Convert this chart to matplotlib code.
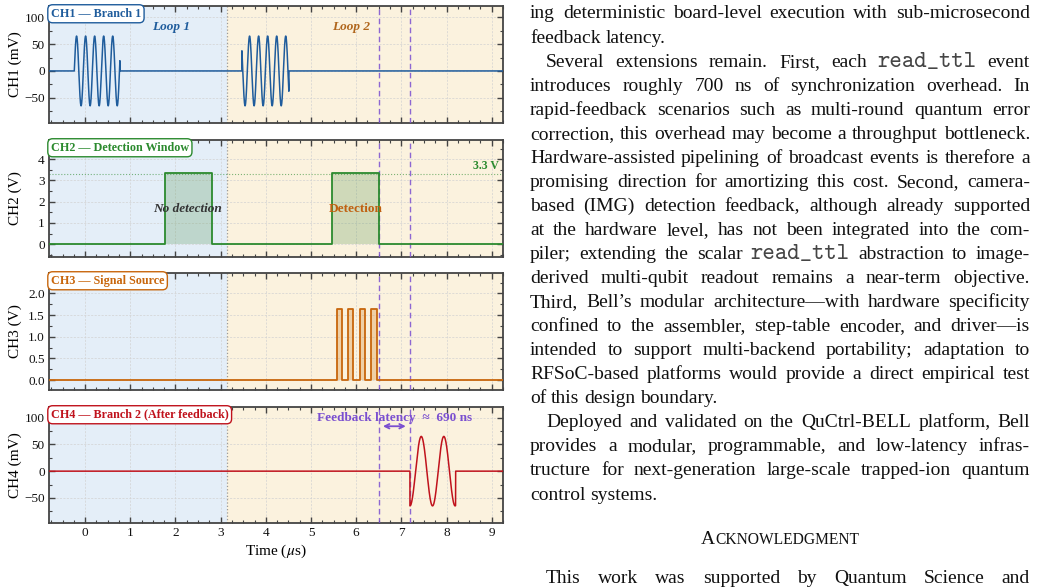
import os
import numpy as np
import matplotlib
matplotlib.use("Agg")
import matplotlib.pyplot as plt
from matplotlib.ticker import MultipleLocator, FormatStrFormatter
from matplotlib.font_manager import FontProperties

# ---------------- data ----------------
time_range_us = (-0.8, 9.25)
loop_boundary_us = 3.14
marker_lines_us = [6.50, 7.19]

ch1_burst_start_us = [-0.24, 3.47]
ch1_burst_stop_us = [0.77, 4.51]
ch1_burst_phase_ref_us = [-0.24, 3.39]
ch1_period_us = 0.20
ch1_amp_mV = 65.0

ch2_pulse_start_us = [1.77, 5.47]
ch2_pulse_stop_us = [2.80, 6.50]
ch2_level_V = 3.35
ch2_ref_V = 3.3

ch3_pulse_start_us = [5.57, 5.82, 6.08, 6.33]
ch3_pulse_stop_us = [5.69, 5.93, 6.20, 6.45]
ch3_level_V = 1.65

ch4_burst_start_us = 7.19
ch4_burst_stop_us = 8.20
ch4_period_us = 0.50
ch4_amp_mV = 65.0

latency_ns = 690

x_ticks = [0, 1, 2, 3, 4, 5, 6, 7, 8, 9]
ch_titles = ["CH1 \u2014 Branch 1", "CH2 \u2014 Detection Window",
             "CH3 \u2014 Signal Source", "CH4 \u2014 Branch 2 (After feedback)"]
ch_ylabels = ["CH1 (mV)", "CH2 (V)", "CH3 (V)", "CH4 (mV)"]
ch_ylims = [(-97, 121), (-0.6, 4.9), (-0.23, 2.47), (-97, 120)]
ch_yticks = [[-50, 0, 50, 100], [0, 1, 2, 3, 4], [0.0, 0.5, 1.0, 1.5, 2.0], [-50, 0, 50, 100]]
ch_yminor = [25, 0.5, 0.25, 25]

# ---------------- style ----------------
plt.rcParams["font.family"] = ["Liberation Serif", "DejaVu Serif"]
plt.rcParams["mathtext.fontset"] = "stix"

C_BLUE = "#1f5c9c"
C_GREEN = "#2b8a2e"
C_ORANGE = "#c8660c"
C_RED = "#c0121c"
C_PURPLE = "#7a4fd0"
BG_LEFT = "#e4eef8"
BG_RIGHT = "#fbf2de"
SPINE = "#444444"
colors = [C_BLUE, C_GREEN, C_ORANGE, C_RED]

W_PX, H_PX = 1039, 588
fig = plt.figure(figsize=(W_PX / 100, H_PX / 100), dpi=100)

ax_left, ax_right = 49, 503
tops = [6, 140, 273, 407]
bots = [123, 257, 390, 523]
axes = []
for i in range(4):
    ax = fig.add_axes([ax_left / W_PX, 1 - bots[i] / H_PX,
                       (ax_right - ax_left) / W_PX, (bots[i] - tops[i]) / H_PX])
    axes.append(ax)

t = np.linspace(time_range_us[0], time_range_us[1], 12001)

def burst(start, stop, ref, period, amp, kind="sin"):
    y = np.zeros_like(t)
    m = (t >= start) & (t <= stop)
    ph = 2 * np.pi * (t[m] - ref) / period
    y[m] = amp * (np.sin(ph) if kind == "sin" else -np.cos(ph))
    return y

def pulses(starts, stops, level):
    xs, ys = [time_range_us[0]], [0.0]
    for s, e in zip(starts, stops):
        xs += [s, s, e, e]
        ys += [0.0, level, level, 0.0]
    xs.append(time_range_us[1]); ys.append(0.0)
    return np.array(xs), np.array(ys)

ch1 = np.zeros_like(t)
for s, e, r in zip(ch1_burst_start_us, ch1_burst_stop_us, ch1_burst_phase_ref_us):
    ch1 += burst(s, e, r, ch1_period_us, ch1_amp_mV)
ch4 = burst(ch4_burst_start_us, ch4_burst_stop_us, ch4_burst_start_us,
            ch4_period_us, ch4_amp_mV, kind="cos")
x2, y2 = pulses(ch2_pulse_start_us, ch2_pulse_stop_us, ch2_level_V)
x3, y3 = pulses(ch3_pulse_start_us, ch3_pulse_stop_us, ch3_level_V)

for i, ax in enumerate(axes):
    ax.set_xlim(*time_range_us)
    ax.set_ylim(*ch_ylims[i])
    ax.axvspan(time_range_us[0], loop_boundary_us, color=BG_LEFT, zorder=0, lw=0)
    ax.axvspan(loop_boundary_us, time_range_us[1], color=BG_RIGHT, zorder=0, lw=0)
    ax.axvline(loop_boundary_us, color="#9a9a9a", ls=":", lw=0.9, zorder=1)
    for xv in marker_lines_us:
        ax.axvline(xv, color=C_PURPLE, ls=(0, (4, 2.5)), lw=1.0, alpha=0.85, zorder=3)
    ax.set_xticks(x_ticks)
    ax.xaxis.set_minor_locator(MultipleLocator(0.25))
    ax.set_yticks(ch_yticks[i])
    ax.yaxis.set_minor_locator(MultipleLocator(ch_yminor[i]))
    ax.grid(True, which="major", color="#d2d2d2", ls=(0, (3, 2)), lw=0.5, zorder=1)
    ax.set_axisbelow(True)
    ax.tick_params(which="both", direction="in", top=True, right=True,
                   colors=SPINE, labelcolor="#111111", labelsize=9.5, pad=3)
    ax.tick_params(which="major", length=4.5, width=1.0)
    ax.tick_params(which="minor", length=2.5, width=0.8)
    for sp in ax.spines.values():
        sp.set_color(SPINE); sp.set_linewidth(1.3)
    if i < 3:
        ax.tick_params(labelbottom=False)
    ax.set_ylabel(ch_ylabels[i], fontsize=11)
    ax.yaxis.set_label_coords(-0.060, 0.5)
    ax.text(0.004, 0.985, ch_titles[i], transform=ax.transAxes, ha="left", va="top",
            fontsize=8.7, fontweight="bold", color=colors[i], zorder=10,
            bbox=dict(boxstyle="round,pad=0.25,rounding_size=0.4", fc="white",
                      ec=colors[i], lw=1.0))

axes[2].yaxis.set_major_formatter(FormatStrFormatter("%.1f"))

# CH1
axes[0].plot(t, ch1, color=C_BLUE, lw=1.1, zorder=4)
axes[0].text(1.9, 82, "Loop 1", color=C_BLUE, fontsize=9.5, fontweight="bold",
             fontstyle="italic", ha="center", va="center")
axes[0].text(5.89, 82, "Loop 2", color="#b0661c", fontsize=9.5, fontweight="bold",
             fontstyle="italic", ha="center", va="center")

# CH2
ax = axes[1]
ax.axhline(ch2_ref_V, color=C_GREEN, ls=":", lw=0.8, alpha=0.6, zorder=2)
ax.fill_between(x2, 0, y2, color="#5e9a5a", alpha=0.28, lw=0, zorder=3)
ax.plot(x2, y2, color=C_GREEN, lw=1.3, zorder=4)
ax.text(2.27, 1.65, "No detection", color="#333333", fontsize=9.5, fontweight="bold",
        fontstyle="italic", ha="center", va="center", zorder=6)
ax.text(5.99, 1.65, "Detection", color="#c06010", fontsize=9.5, fontweight="bold",
        ha="center", va="center", zorder=6)
ax.text(9.15, 3.68, "3.3 V", color=C_GREEN, fontsize=8.5, fontweight="bold",
        ha="right", va="center")

# CH3
ax = axes[2]
ax.fill_between(x3, 0, y3, color="#d9913f", alpha=0.35, lw=0, zorder=3)
ax.plot(x3, y3, color=C_ORANGE, lw=1.3, zorder=4)

# CH4
ax = axes[3]
ax.plot(t, ch4, color=C_RED, lw=1.1, zorder=4)
ax.annotate("", xy=(marker_lines_us[1], 84), xytext=(marker_lines_us[0], 84),
            arrowprops=dict(arrowstyle="<->", color=C_PURPLE, lw=1.3,
                            shrinkA=3, shrinkB=3, mutation_scale=8), zorder=6)
ax.text(6.85, 99, "Feedback latency  \u2248  %d ns" % latency_ns, color=C_PURPLE,
        fontsize=9.5, fontweight="bold", ha="center", va="center", zorder=6)
ax.set_xlabel("Time ($\\mu$s)", fontsize=11)
ax.xaxis.set_label_coords(0.5, -0.17)

# ---------------- body text on the right ----------------
body_lines = [
    ("ing deterministic board-level execution with sub-microsecond", True, False),
    ("feedback latency.", False, False),
    ("Several extensions remain. First, each `read_ttl` event", True, True),
    ("introduces roughly 700 ns of synchronization overhead. In", True, False),
    ("rapid-feedback scenarios such as multi-round quantum error", True, False),
    ("correction, this overhead may become a throughput bottleneck.", True, False),
    ("Hardware-assisted pipelining of broadcast events is therefore a", True, False),
    ("promising direction for amortizing this cost. Second, camera-", True, False),
    ("based (IMG) detection feedback, although already supported", True, False),
    ("at the hardware level, has not been integrated into the com-", True, False),
    ("piler; extending the scalar `read_ttl` abstraction to image-", True, False),
    ("derived multi-qubit readout remains a near-term objective.", True, False),
    ("Third, Bell\u2019s modular architecture\u2014with hardware specificity", True, False),
    ("confined to the assembler, step-table encoder, and driver\u2014is", True, False),
    ("intended to support multi-backend portability; adaptation to", True, False),
    ("RFSoC-based platforms would provide a direct empirical test", True, False),
    ("of this design boundary.", False, False),
    ("Deployed and validated on the QuCtrl-BELL platform, Bell", True, True),
    ("provides a modular, programmable, and low-latency infras-", True, False),
    ("tructure for next-generation large-scale trapped-ion quantum", True, False),
    ("control systems.", False, False),
]
last_line = ("This work was supported by Quantum Science and", True, True)

TXT_L, TXT_R = 530, 1030
INDENT = 16
BASE0 = 18.5
STEP = 24.05
FS = 14.0
MONO_FS = 17.0

tt_path = os.path.join(matplotlib.get_data_path(), "fonts", "ttf", "cmtt10.ttf")
if os.path.exists(tt_path):
    MONO_FP = FontProperties(fname=tt_path, size=MONO_FS)
else:
    MONO_FP = FontProperties(family="Liberation Mono", size=MONO_FS - 1.5)
SERIF_FP = FontProperties(family="Liberation Serif", size=FS)

renderer = fig.canvas.get_renderer()

def width_of(s, fp):
    tt = fig.text(0, 0, s, fontproperties=fp)
    w = tt.get_window_extent(renderer).width
    tt.remove()
    return w

space_w = width_of("a a", SERIF_FP) - width_of("aa", SERIF_FP)

def place_line(line, base_px):
    txt, justify, indent = line
    toks = []
    for w in txt.split(" "):
        if w.startswith("`") and w.endswith("`"):
            toks.append((w.strip("`"), MONO_FP, "#454545"))
        else:
            toks.append((w, SERIF_FP, "#111111"))
    widths = [width_of(s, fp) for s, fp, c in toks]
    x0 = TXT_L + (INDENT if indent else 0)
    if justify and len(toks) > 1:
        gap = (TXT_R - x0 - sum(widths)) / (len(toks) - 1)
    else:
        gap = space_w
    x = x0
    for (s, fp, c), w in zip(toks, widths):
        fig.text(x / W_PX, 1 - base_px / H_PX, s, fontproperties=fp,
                 ha="left", va="baseline", color=c)
        x += w + gap

for k, line in enumerate(body_lines):
    place_line(line, BASE0 + k * STEP)

# small-caps heading
ack_base = 544.5
SC_FP = FontProperties(family="Liberation Serif", size=FS * 0.8)
wA = width_of("A", SERIF_FP)
wR = width_of("CKNOWLEDGMENT", SC_FP)
cx = (TXT_L + TXT_R) / 2
xs = cx - (wA + wR) / 2
fig.text(xs / W_PX, 1 - ack_base / H_PX, "A", fontproperties=SERIF_FP,
         ha="left", va="baseline", color="#111111")
fig.text((xs + wA) / W_PX, 1 - ack_base / H_PX, "CKNOWLEDGMENT", fontproperties=SC_FP,
         ha="left", va="baseline", color="#111111")

place_line(last_line, 583.0)

fig.savefig("out.png", dpi=100)
